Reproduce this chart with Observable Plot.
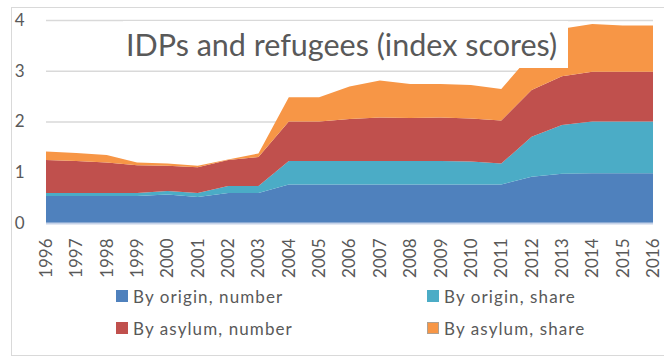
<!DOCTYPE html>
<html>
<head>
<meta charset="utf-8">
<script src="https://cdn.jsdelivr.net/npm/d3@7"></script>
<script src="https://cdn.jsdelivr.net/npm/@observablehq/plot@0.6"></script>
<style>
  html, body { margin: 0; padding: 0; background: #fff; }
  #wrap { position: relative; width: 664px; height: 361px; overflow: hidden; font-family: Lato, "Open Sans", sans-serif; color: #595959; }
  #frame { position: absolute; left: 11px; top: 7px; width: 670px; height: 349px; border: 1px solid #d9d9d9; box-sizing: border-box; }
  #chart { position: absolute; left: 0; top: 0; }
  #title { position: absolute; left: 123px; top: 21px; width: 445px; height: 47px; background: #fff; font-size: 30.5px; line-height: 47px; padding-left: 3px; box-sizing: border-box; white-space: nowrap; }
  .leg { position: absolute; display: flex; align-items: center; font-size: 17px; letter-spacing: 1.1px; white-space: nowrap; }
  .sw { width: 12px; height: 12px; margin-right: 5px; box-sizing: border-box; }
</style>
</head>
<body>
<div id="wrap">
  <div id="frame"></div>
  <div id="chart"></div>
  <div id="title">IDPs and refugees (index scores)</div>
</div>
<script>
const years = [1996,1997,1998,1999,2000,2001,2002,2003,2004,2005,2006,2007,2008,2009,2010,2011,2012,2013,2014,2015,2016];
const originNumber = [0.53,0.53,0.53,0.53,0.56,0.51,0.59,0.59,0.76,0.76,0.76,0.76,0.76,0.76,0.76,0.76,0.91,0.97,0.98,0.98,0.98];
const originShare  = [0.06,0.06,0.06,0.06,0.07,0.08,0.14,0.14,0.46,0.46,0.46,0.46,0.46,0.46,0.45,0.41,0.79,0.96,1.02,1.02,1.02];
const asylumNumber = [0.65,0.63,0.60,0.55,0.50,0.51,0.51,0.57,0.78,0.78,0.83,0.86,0.85,0.86,0.85,0.85,0.92,0.96,0.98,0.98,0.98];
const asylumShare  = [0.17,0.16,0.15,0.05,0.04,0.03,0.01,0.07,0.48,0.48,0.64,0.73,0.67,0.66,0.66,0.62,0.71,0.94,0.94,0.91,0.91];
const seriesNames = ["By origin, number","By origin, share","By asylum, number","By asylum, share"];
const seriesColors = ["#4f81bd","#4bacc6","#c0504d","#f79646"];
const yTicks = [0,1,2,3,4];

const seriesValues = [originNumber, originShare, asylumNumber, asylumShare];
const table = seriesNames.flatMap((s, i) => years.map((yr, j) => ({series: s, year: yr, value: seriesValues[i][j]})));

const chart = Plot.plot({
  width: 664,
  height: 361,
  marginLeft: 46,
  marginRight: 11,
  marginTop: 20,
  marginBottom: 138,
  x: {domain: [years[0], years[years.length - 1]], label: null},
  y: {domain: [yTicks[0], yTicks[yTicks.length - 1]], label: null},
  color: {domain: seriesNames, range: seriesColors},
  style: {fontFamily: "Lato, 'Open Sans', sans-serif", fontSize: "17px", color: "#595959", background: "transparent", overflow: "visible"},
  marks: [
    Plot.gridY(yTicks.slice(1), {stroke: "#d9d9d9", strokeOpacity: 1, strokeWidth: 1.5}),
    Plot.areaY(table, {x: "year", y: "value", fill: "series", order: seriesNames}),
    Plot.ruleY([0], {stroke: "#c5d2e8", strokeWidth: 2}),
    Plot.axisY({ticks: yTicks, tickSize: 0, tickPadding: 22, tickFormat: d => String(d), label: null, fill: "#595959", fontSize: 17}),
    Plot.axisX({ticks: years, tickSize: 0, tickPadding: 15, tickRotate: -90, tickFormat: d => String(d), label: null, fill: "#595959", fontSize: 17})
  ]
});
document.getElementById("chart").appendChild(chart);

// legend
const legendPos = [[116, 290], [427, 290], [116, 322], [427, 322]];
const wrap = document.getElementById("wrap");
seriesNames.forEach((s, i) => {
  const d = document.createElement("div");
  d.className = "leg";
  d.style.left = legendPos[i][0] + "px";
  d.style.top = (legendPos[i][1] - 6) + "px";
  d.style.height = "24px";
  const sw = document.createElement("div");
  sw.className = "sw";
  sw.style.background = seriesColors[i];
  if (i === 3) sw.style.border = "1px solid #b0a090";
  d.appendChild(sw);
  const t = document.createElement("span");
  t.textContent = s;
  d.appendChild(t);
  wrap.appendChild(d);
});
</script>
</body>
</html>
